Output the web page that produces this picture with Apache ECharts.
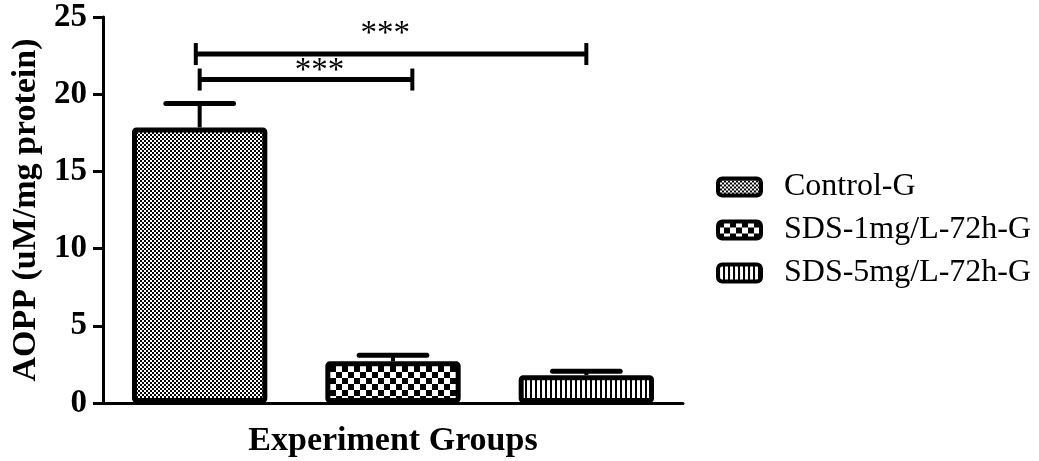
<!DOCTYPE html>
<html>
<head>
<meta charset="utf-8">
<script src="https://cdn.jsdelivr.net/npm/echarts@6/dist/echarts.min.js"></script>
<style>
  html, body { margin: 0; padding: 0; background: #fff; }
  #main { width: 1039px; height: 461px; }
</style>
</head>
<body>
<div id="main"></div>
<script>
var groups = ['Control-G', 'SDS-1mg/L-72h-G', 'SDS-5mg/L-72h-G'];
var means = [17.85, 2.7, 1.8];
var errors = [1.55, 0.4, 0.25];
var yTicks = [0, 5, 10, 15, 20, 25];
// significance brackets: [from category, to category, y value]
var brackets = [[0, 1.1, 20.95], [-0.02, 2.0, 22.6]];
// star labels: [category position, y value, text]
var stars = [[0.62, 21.45, '***'], [0.96, 23.85, '***']];

var FONT = '"Liberation Serif", "Times New Roman", serif';

function makePattern(kind) {
    var c = document.createElement('canvas');
    var ctx = c.getContext('2d');
    if (kind === 'fine') {
        c.width = 4; c.height = 4;
        ctx.fillStyle = '#fff'; ctx.fillRect(0, 0, 4, 4);
        ctx.fillStyle = '#000';
        ctx.fillRect(0, 0, 2, 2); ctx.fillRect(2, 2, 2, 2);
    } else if (kind === 'coarse') {
        c.width = 12; c.height = 12;
        ctx.fillStyle = '#fff'; ctx.fillRect(0, 0, 12, 12);
        ctx.fillStyle = '#000';
        ctx.fillRect(0, 0, 6, 6); ctx.fillRect(6, 6, 6, 6);
    } else {
        c.width = 5; c.height = 5;
        ctx.fillStyle = '#fff'; ctx.fillRect(0, 0, 5, 5);
        ctx.fillStyle = '#000';
        ctx.fillRect(0, 0, 2, 5);
    }
    return { image: c, repeat: 'repeat' };
}

var patterns = [makePattern('fine'), makePattern('coarse'), makePattern('stripe')];

var chart = echarts.init(document.getElementById('main'));

var barSeries = groups.map(function (name, i) {
    var d = groups.map(function (g, j) { return j === i ? means[i] : '-'; });
    return {
        name: name,
        type: 'bar',
        stack: 'all',
        barWidth: '70%',
        data: d,
        itemStyle: {
            color: patterns[i],
            borderColor: '#000',
            borderWidth: 5,
            borderRadius: 2
        },
        z: 2
    };
});

var errData = means.map(function (m, i) { return [i, m, errors[i]]; });

var option = {
    animation: false,
    grid: { left: 103, right: 356, top: 17, bottom: 58, outerBoundsMode: 'none' },
    legend: {
        orient: 'vertical',
        left: 716,
        top: 171,
        padding: 0,
        itemWidth: 43,
        itemHeight: 17,
        itemGap: 11,
        icon: 'roundRect',
        itemStyle: { borderColor: '#000', borderWidth: 4 },
        textStyle: { fontFamily: FONT, fontSize: 32, lineHeight: 32, color: '#000', padding: [0, 0, 0, 18] },
        data: groups
    },
    xAxis: {
        type: 'category',
        data: groups,
        name: 'Experiment Groups',
        nameLocation: 'middle',
        nameGap: 21,
        nameTextStyle: { fontFamily: FONT, fontSize: 34, fontWeight: 'bold', color: '#000' },
        axisLine: { lineStyle: { color: '#000', width: 3 } },
        axisTick: { alignWithLabel: true, length: 10, lineStyle: { color: '#000', width: 3 } },
        axisLabel: { show: false },
        splitLine: { show: false }
    },
    yAxis: {
        type: 'value',
        min: yTicks[0],
        max: yTicks[yTicks.length - 1],
        interval: 5,
        name: 'AOPP (uM/mg protein)',
        nameLocation: 'middle',
        nameGap: 56,
        nameRotate: 90,
        nameTextStyle: { fontFamily: FONT, fontSize: 34, fontWeight: 'bold', color: '#000' },
        axisLine: { show: true, lineStyle: { color: '#000', width: 3 } },
        axisTick: { show: true, length: 10, lineStyle: { color: '#000', width: 3 } },
        axisLabel: { fontFamily: FONT, fontSize: 33, fontWeight: 'bold', color: '#000', margin: 16 },
        splitLine: { show: false }
    },
    series: barSeries.concat([
        {
            type: 'custom',
            name: 'err',
            data: errData,
            z: 3,
            renderItem: function (params, api) {
                var x = api.value(0);
                var top = api.coord([x, api.value(1)]);
                var hi = api.coord([x, api.value(1) + api.value(2)]);
                var half = api.size([1, 0])[0] * 0.175;
                return {
                    type: 'group',
                    children: [
                        { type: 'line', shape: { x1: top[0], y1: top[1], x2: hi[0], y2: hi[1] },
                          style: { stroke: '#000', lineWidth: 4 } },
                        { type: 'line', shape: { x1: hi[0] - half, y1: hi[1], x2: hi[0] + half, y2: hi[1] },
                          style: { stroke: '#000', lineWidth: 5, lineCap: 'round' } }
                    ]
                };
            }
        },
        {
            type: 'custom',
            name: 'brackets',
            data: brackets,
            z: 3,
            renderItem: function (params, api) {
                var y = api.value(2);
                var p0 = api.coord([0, y]);
                var p1 = api.coord([1, y]);
                var step = p1[0] - p0[0];
                var xa = p0[0] + api.value(0) * step;
                var xb = p0[0] + api.value(1) * step;
                var yy = p0[1];
                return {
                    type: 'group',
                    children: [
                        { type: 'line', shape: { x1: xa, y1: yy, x2: xb, y2: yy },
                          style: { stroke: '#000', lineWidth: 5 } },
                        { type: 'line', shape: { x1: xa, y1: yy - 11, x2: xa, y2: yy + 11 },
                          style: { stroke: '#000', lineWidth: 4 } },
                        { type: 'line', shape: { x1: xb, y1: yy - 11, x2: xb, y2: yy + 11 },
                          style: { stroke: '#000', lineWidth: 4 } }
                    ]
                };
            }
        },
        {
            type: 'custom',
            name: 'stars',
            data: stars,
            z: 3,
            renderItem: function (params, api) {
                var y = api.value(1);
                var p0 = api.coord([0, y]);
                var p1 = api.coord([1, y]);
                var x = p0[0] + api.value(0) * (p1[0] - p0[0]);
                return {
                    type: 'text',
                    style: {
                        x: x, y: p0[1],
                        text: stars[params.dataIndex][2],
                        fontFamily: FONT, fontSize: 33, fill: '#000',
                        align: 'center', verticalAlign: 'middle'
                    }
                };
            }
        }
    ])
};

chart.setOption(option);
window.addEventListener('resize', chart.resize);
</script>
</body>
</html>
